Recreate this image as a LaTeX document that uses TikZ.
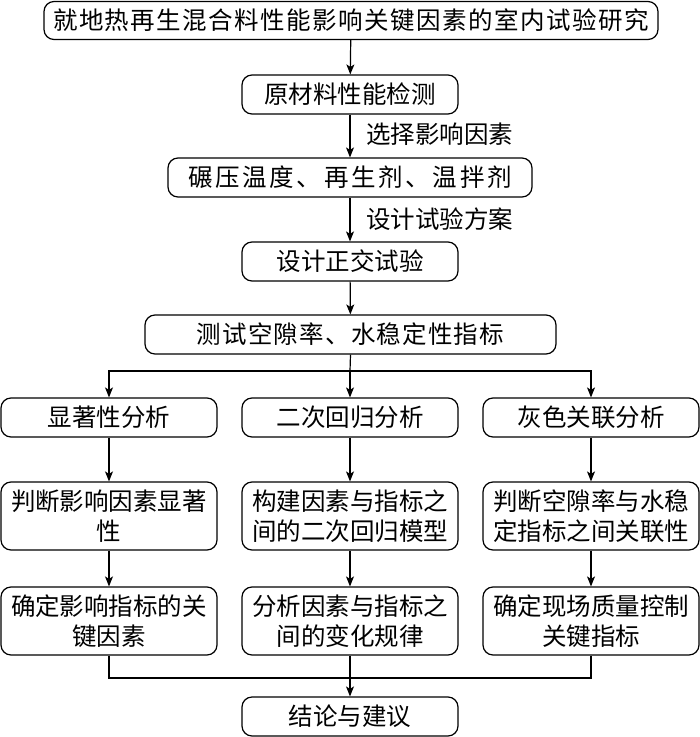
\documentclass[tikz,border=0pt]{standalone}
\usepackage{fontspec}
\setmainfont{Noto Sans CJK SC}
\newfontfamily\cjk{Noto Sans CJK SC}
\newfontfamily\cjkA[LetterSpace=6]{Noto Sans CJK SC}
\newfontfamily\cjkB[LetterSpace=11]{Noto Sans CJK SC}
\newfontfamily\cjkC[LetterSpace=5]{Noto Sans CJK SC}
\usetikzlibrary{arrows.meta}
\tikzset{
  box/.style={draw, line width=1.2pt, rounded corners=10pt, inner sep=0pt,
    minimum height=39pt, align=center, font=\cjk\fontsize{24.5}{30}\selectfont},
  tall/.style={box, minimum height=68pt, minimum width=216pt},
  arr/.style={line width=1.2pt, -{Stealth[length=10pt,width=8pt,inset=2.5pt]}},
  ln/.style={line width=1.2pt},
  lab/.style={font=\cjk\fontsize{24.5}{30}\selectfont, anchor=west, inner sep=0pt}
}
\begin{document}
\begin{tikzpicture}[x=1pt,y=-1pt]
\useasboundingbox (0,0) rectangle (700,737);
\node[box, minimum width=614pt, minimum height=38pt, font=\cjkA\fontsize{24.5}{30}\selectfont] (top) at (351,20.5) {就地热再生混合料性能影响关键因素的室内试验研究};
\node[box, minimum width=216pt] (b2) at (350,94.5) {原材料性能检测};
\node[box, minimum width=364pt, font=\cjkB\fontsize{24.5}{30}\selectfont] (b3) at (350,177.5) {碾压温度、再生剂、温拌剂};
\node[box, minimum width=216pt] (b4) at (350,261.5) {设计正交试验};
\node[box, minimum width=411pt, font=\cjkC\fontsize{24.5}{30}\selectfont] (b5) at (350.5,334.5) {测试空隙率、水稳定性指标};
\node[box, minimum width=216pt] (a1) at (109,417.5) {显著性分析};
\node[box, minimum width=216pt] (a2) at (350,417.5) {二次回归分析};
\node[box, minimum width=216pt] (a3) at (591,417.5) {灰色关联分析};
\node[tall] (r1) at (109,516) {判断影响因素显著\\性};
\node[tall] (r2) at (350,516) {构建因素与指标之\\间的二次回归模型};
\node[tall] (r3) at (591,516) {判断空隙率与水稳\\定指标之间关联性};
\node[tall] (s1) at (109,621) {确定影响指标的关\\键因素};
\node[tall] (s2) at (350,621) {分析因素与指标之\\间的变化规律};
\node[tall] (s3) at (591,621) {确定现场质量控制\\关键指标};
\node[box, minimum width=216pt] (fin) at (350,716.5) {结论与建议};
\node[lab] (l1) at (366,134) {选择影响因素};
\node[lab] (l2) at (366,219) {设计试验方案};
\coordinate (br) at (350,371);
\coordinate (mg) at (350,678);
\draw[arr] (top) -- (b2);
\draw[arr] (b2) -- (b3);
\draw[arr] (b3) -- (b4);
\draw[arr] (b4) -- (b5);
\draw[ln] (b5.south) -- (br);
\draw[arr] (br) -| (a1.north);
\draw[arr] (br) -- (a2.north);
\draw[arr] (br) -| (a3.north);
\draw[arr] (a1) -- (r1);
\draw[arr] (a2) -- (r2);
\draw[arr] (a3) -- (r3);
\draw[arr] (r1) -- (s1);
\draw[arr] (r2) -- (s2);
\draw[arr] (r3) -- (s3);
\draw[ln] (s1.south) |- (mg);
\draw[ln] (s3.south) |- (mg);
\draw[ln] (s2.south) -- (mg);
\draw[arr] (mg) -- (fin);
\end{tikzpicture}
\end{document}
